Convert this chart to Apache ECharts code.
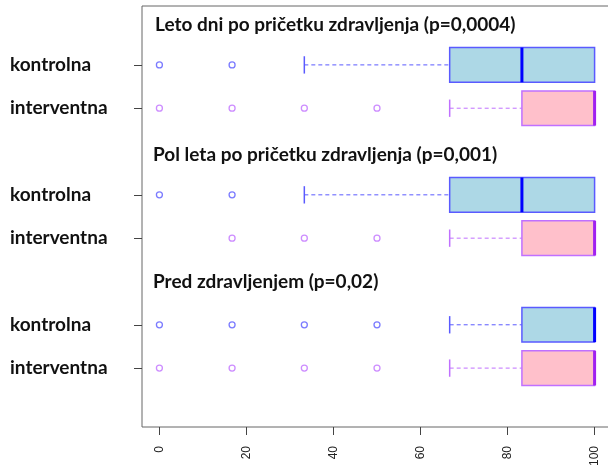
<!DOCTYPE html>
<html lang="sl">
<head>
    <meta charset="UTF-8"/>
    <title>Boxplot</title>
    <style>
        html, body {
            margin: 0;
            padding: 0;
            background: #ffffff;
            overflow: hidden;
        }

        #chart {
            width: 608px;
            height: 466px;
        }
    </style>
</head>
<body>
<div id="chart"></div>
<script src="https://cdn.jsdelivr.net/npm/echarts@6/dist/echarts.min.js"></script>
<script>
    const chart = echarts.init(document.getElementById('chart'));

    // panels top to bottom, two groups inside each
    const panels = [
        'Leto dni po pričetku zdravljenja (p=0,0004)',
        'Pol leta po pričetku zdravljenja (p=0,001)',
        'Pred zdravljenjem (p=0,02)'
    ];
    const groups = ['kontrolna', 'interventna'];
    const xTicks = [0, 20, 40, 60, 80, 100];

    // [lower whisker, Q1, median, Q3, upper whisker], one per panel
    const kontrolnaStats = [
        [33.3, 66.7, 83.3, 100, 100],
        [33.3, 66.7, 83.3, 100, 100],
        [66.7, 83.3, 100, 100, 100]
    ];
    const interventnaStats = [
        [66.7, 83.3, 100, 100, 100],
        [66.7, 83.3, 100, 100, 100],
        [66.7, 83.3, 100, 100, 100]
    ];
    const kontrolnaOutliers = [
        [0, 16.7],
        [0, 16.7],
        [0, 16.7, 33.3, 50]
    ];
    const interventnaOutliers = [
        [0, 16.7, 33.3, 50],
        [16.7, 33.3, 50],
        [0, 16.7, 33.3, 50]
    ];

    const stats = [kontrolnaStats, interventnaStats];
    const outliers = [kontrolnaOutliers, interventnaOutliers];
    const fills = ['#add8e6', '#ffc0cb'];
    const borders = ['#5a5aff', '#c070ff'];
    const medians = ['#0000ff', '#a020f0'];

    // row positions: panel title, then the two groups
    const rowPos = (p, g) => p * 3 + 2 + g;
    const labelRows = [];
    const labelNames = {};
    panels.forEach((_, p) => groups.forEach((name, g) => {
        labelRows.push(rowPos(p, g));
        labelNames[rowPos(p, g)] = name;
    }));

    const boxData = [];
    stats.forEach((list, g) => list.forEach((s, p) => {
        boxData.push([rowPos(p, g)].concat(s, [g]));
    }));

    function renderBox(params, api) {
        const pos = api.value(0);
        const lo = api.value(1), q1 = api.value(2), med = api.value(3), q3 = api.value(4), hi = api.value(5);
        const g = api.value(6);
        const y = api.coord([0, pos])[1];
        const half = api.size([0, 0.8])[1] / 2;
        const x = v => api.coord([v, pos])[0];
        const dash = {stroke: borders[g], lineWidth: 1, lineDash: [4, 3]};
        const solid = {stroke: borders[g], lineWidth: 1.5};
        const children = [
            {type: 'line', shape: {x1: x(lo), y1: y, x2: x(q1), y2: y}, style: dash},
            {type: 'line', shape: {x1: x(q3), y1: y, x2: x(hi), y2: y}, style: dash},
            {type: 'line', shape: {x1: x(lo), y1: y - half / 2, x2: x(lo), y2: y + half / 2}, style: solid},
            {
                type: 'rect',
                shape: {x: x(q1), y: y - half, width: x(q3) - x(q1), height: half * 2},
                style: {fill: fills[g], stroke: borders[g], lineWidth: 1.5}
            },
            {
                type: 'line',
                shape: {x1: x(med), y1: y - half, x2: x(med), y2: y + half},
                style: {stroke: medians[g], lineWidth: 3}
            }
        ];
        if (hi > q3) {
            children.push({type: 'line', shape: {x1: x(hi), y1: y - half / 2, x2: x(hi), y2: y + half / 2}, style: solid});
        }
        return {type: 'group', children: children};
    }

    function outlierSeries(g) {
        const data = [];
        outliers[g].forEach((vals, p) => vals.forEach(v => data.push([v, rowPos(p, g)])));
        return {
            type: 'scatter',
            data: data,
            symbol: 'circle',
            symbolSize: 6,
            itemStyle: {color: '#ffffff', borderColor: borders[g], borderWidth: 1.3},
            z: 3
        };
    }

    const titleTops = [15, 145, 272];
    const titleLefts = [155, 153, 153];

    const option = {
        animation: false,
        title: panels.map((t, p) => ({
            text: t,
            left: titleLefts[p],
            top: titleTops[p],
            padding: 0,
            textStyle: {fontFamily: 'Lato', fontWeight: 'bold', fontSize: 19, color: '#111'}
        })),
        grid: {
            left: 142,
            top: 6,
            width: 470,
            height: 421,
            outerBoundsMode: 'none',
            show: true,
            borderColor: '#666',
            borderWidth: 1,
            backgroundColor: 'transparent'
        },
        xAxis: {
            type: 'value',
            min: -4,
            max: 104,
            axisLine: {show: false, onZero: false},
            splitLine: {show: false},
            axisTick: {show: true, customValues: xTicks, length: 8, lineStyle: {color: '#444'}},
            axisLabel: {
                customValues: xTicks,
                rotate: 90,
                margin: 19,
                fontSize: 12,
                fontFamily: 'Liberation Sans',
                color: '#222'
            }
        },
        yAxis: {
            type: 'value',
            inverse: true,
            min: 0.64,
            max: 10.36,
            axisLine: {show: false, onZero: false},
            splitLine: {show: false},
            axisTick: {show: true, customValues: labelRows, length: 8, lineStyle: {color: '#444'}},
            axisLabel: {
                customValues: labelRows,
                formatter: v => labelNames[Math.round(v)] || '',
                align: 'left',
                margin: 132,
                fontSize: 19,
                fontWeight: 'bold',
                fontFamily: 'Lato',
                color: '#111'
            }
        },
        series: [
            {
                type: 'custom',
                renderItem: renderBox,
                data: boxData,
                encode: {x: [1, 2, 3, 4, 5], y: 0},
                clip: false,
                z: 2
            },
            outlierSeries(0),
            outlierSeries(1)
        ]
    };

    chart.setOption(option);
</script>
</body>
</html>
